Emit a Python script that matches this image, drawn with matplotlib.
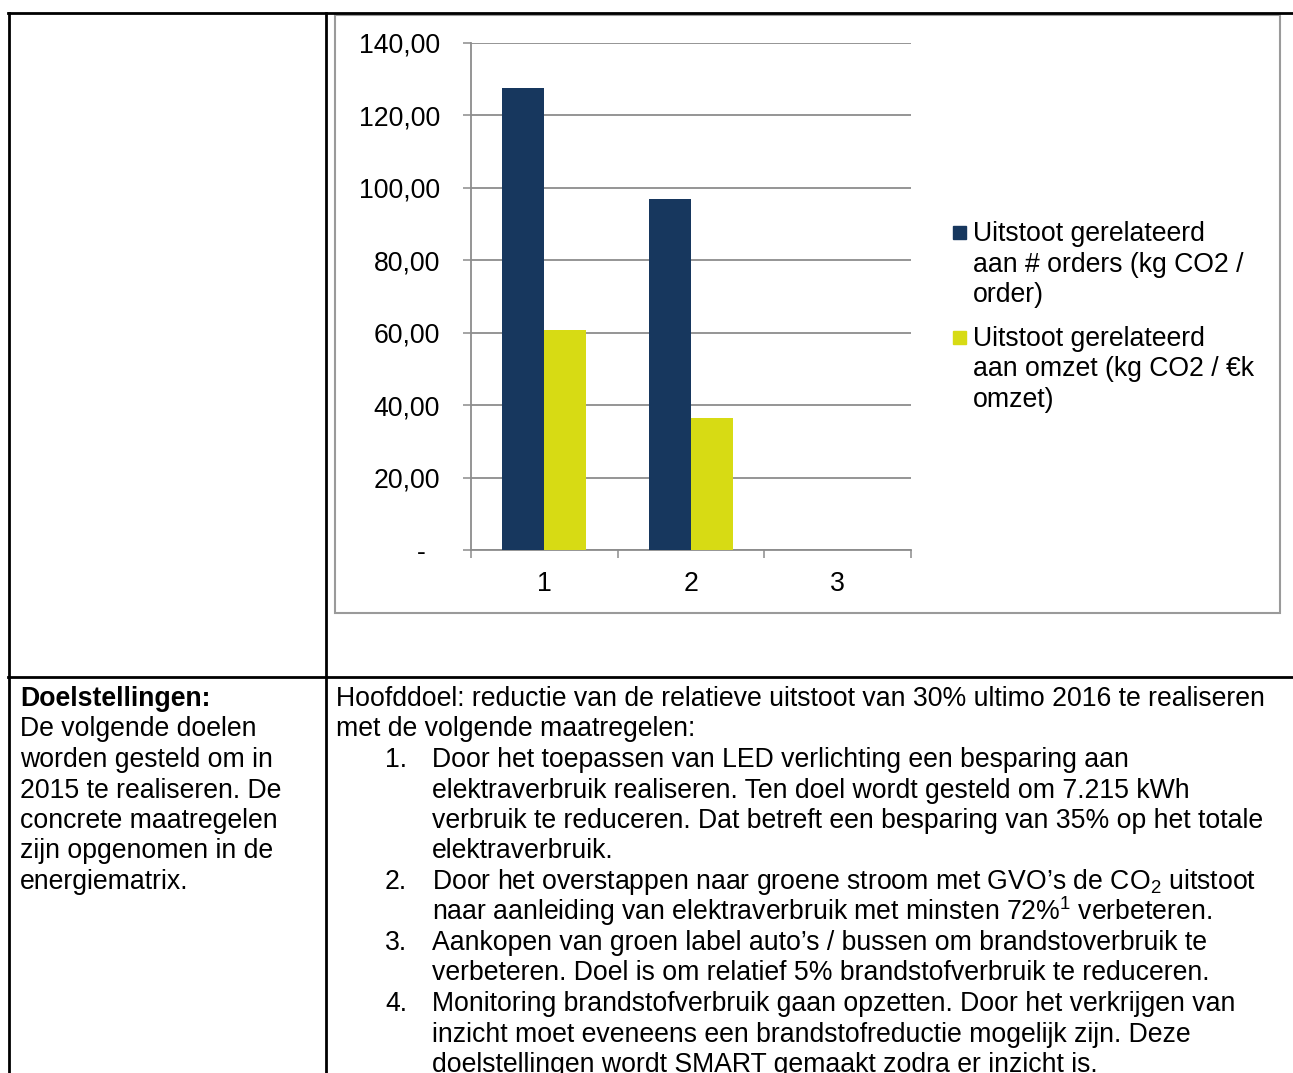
import numpy as np
import matplotlib
matplotlib.use("Agg")
import matplotlib.pyplot as plt
from matplotlib.patches import Rectangle

plt.rcParams['font.family'] = ['Liberation Sans', 'DejaVu Sans']
plt.rcParams['mathtext.fontset'] = 'custom'
plt.rcParams['mathtext.rm'] = 'Liberation Sans'

# Chart data
categories = ['1', '2', '3']
per_order = [127.6, 96.9, np.nan]
per_omzet = [60.8, 36.5, np.nan]
series_labels = [
    ['Uitstoot gerelateerd', 'aan # orders (kg CO2 /', 'order)'],
    ['Uitstoot gerelateerd', 'aan omzet (kg CO2 / €k', 'omzet)'],
]
y_ticks = [0, 20, 40, 60, 80, 100, 120, 140]
y_tick_labels = ['-  ', '20,00', '40,00', '60,00', '80,00', '100,00', '120,00', '140,00']
colors = ['#17375E', '#D7DB14']

# Table text
left_title = 'Doelstellingen:'
left_lines = ['De volgende doelen', 'worden gesteld om in', '2015 te realiseren. De',
              'concrete maatregelen', 'zijn opgenomen in de', 'energiematrix.']
intro_lines = ['Hoofddoel: reductie van de relatieve uitstoot van 30% ultimo 2016 te realiseren',
               'met de volgende maatregelen:']
items = [
    ['Door het toepassen van LED verlichting een besparing aan',
     'elektraverbruik realiseren. Ten doel wordt gesteld om 7.215 kWh',
     'verbruik te reduceren. Dat betreft een besparing van 35% op het totale',
     'elektraverbruik.'],
    [r'Door het overstappen naar groene stroom met GVO’s de CO$_{\rm 2}$ uitstoot',
     r'naar aanleiding van elektraverbruik met minsten 72%$^{\rm 1}$ verbeteren.'],
    ['Aankopen van groen label auto’s / bussen om brandstoverbruik te',
     'verbeteren. Doel is om relatief 5% brandstofverbruik te reduceren.'],
    ['Monitoring brandstofverbruik gaan opzetten. Door het verkrijgen van',
     'inzicht moet eveneens een brandstofreductie mogelijk zijn. Deze',
     'doelstellingen wordt SMART gemaakt zodra er inzicht is.'],
]

W, H = 1293, 1073
fig = plt.figure(figsize=(W / 100, H / 100), dpi=100)

# page layer in pixel coordinates
bg = fig.add_axes([0, 0, 1, 1])
bg.set_xlim(0, W)
bg.set_ylim(H, 0)
bg.axis('off')

# table borders
bg.plot([8, W], [13, 13], color='black', lw=2)
bg.plot([8, W], [677, 677], color='black', lw=2)
bg.plot([9, 9], [13, H], color='black', lw=2)
bg.plot([326, 326], [13, H], color='black', lw=2)
# chart frame
bg.add_patch(Rectangle((335, 15), 945, 598, fill=False, ec='#9a9a9a', lw=1.5))

fs = 19.2
line_h = 30.5
base = 706

bg.text(20, base, left_title, fontsize=fs, fontweight='bold', va='baseline')
for i, s in enumerate(left_lines):
    bg.text(20, base + line_h * (i + 1), s, fontsize=fs, va='baseline')

row = 0
for s in intro_lines:
    bg.text(336, base + line_h * row, s, fontsize=fs, va='baseline')
    row += 1
for n, lines in enumerate(items):
    bg.text(385, base + line_h * row, f'{n + 1}.', fontsize=fs, va='baseline')
    for s in lines:
        bg.text(432, base + line_h * row, s, fontsize=fs, va='baseline')
        row += 1

# legend
for k, lines in enumerate(series_labels):
    y0 = 241 + k * 105
    bg.add_patch(Rectangle((953, y0 - 15), 13, 13, color=colors[k]))
    for j, s in enumerate(lines):
        bg.text(973, y0 + j * line_h, s, fontsize=fs, va='baseline')

# chart
ax = fig.add_axes([471 / W, 1 - 550 / H, (911 - 471) / W, (550 - 43) / H])
x = np.arange(1, len(categories) + 1)
bw = 0.286
ax.bar(x - bw / 2, per_order, bw, color=colors[0], zorder=3)
ax.bar(x + bw / 2, per_omzet, bw, color=colors[1], zorder=3)
ax.set_xlim(0.5, len(categories) + 0.5)
ax.set_ylim(0, 140)

grey = '#8c8c8c'
ax.set_yticks(y_ticks)
ax.set_yticklabels(y_tick_labels, fontsize=fs)
ax.yaxis.grid(True, color=grey, lw=1.3, zorder=0)
ax.tick_params(axis='y', length=5.8, width=1.1, color=grey, pad=16.5)

ax.set_xticks(x)
ax.set_xticklabels(categories, fontsize=fs)
ax.set_xticks(np.arange(0.5, len(categories) + 1), minor=True)
ax.tick_params(axis='x', which='major', length=0, pad=15)
ax.tick_params(axis='x', which='minor', length=5.8, width=1.1, color=grey)

for side in ['top', 'right']:
    ax.spines[side].set_visible(False)
for side in ['left', 'bottom']:
    ax.spines[side].set_color(grey)
    ax.spines[side].set_linewidth(1.3)
ax.set_facecolor('none')

fig.savefig('out.png', dpi=100)
